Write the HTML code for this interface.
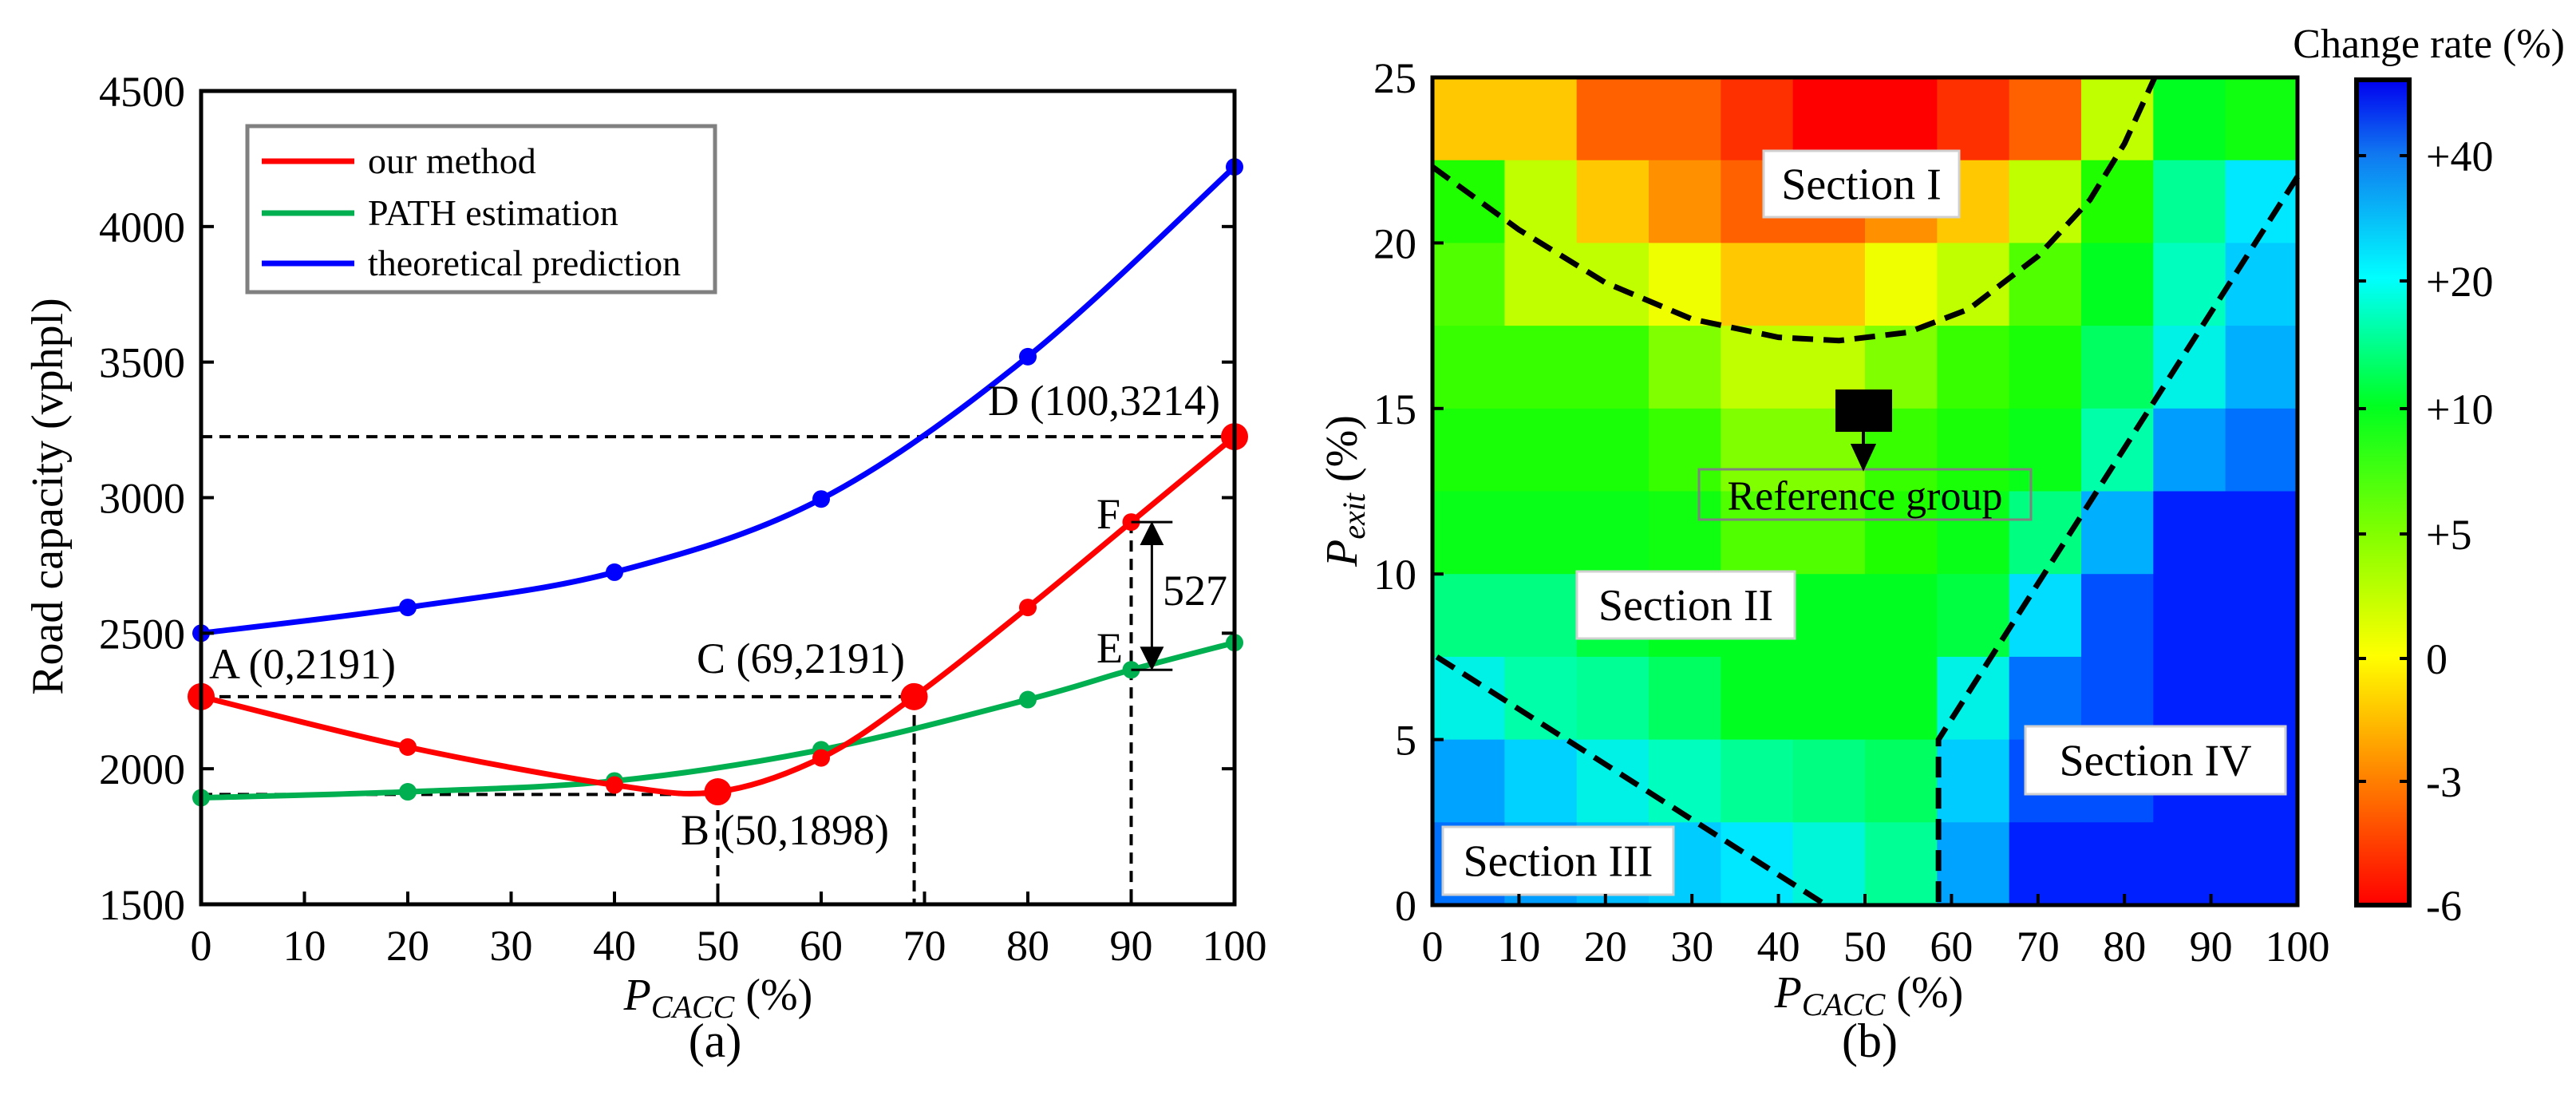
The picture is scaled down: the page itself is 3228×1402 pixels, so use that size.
<!DOCTYPE html>
<html><head><meta charset="utf-8"><style>
html,body{margin:0;padding:0;background:#fff}
svg{display:block}
text{font-family:"Liberation Serif",serif;fill:#000}
</style></head><body>
<svg id="fig" width="3228" height="1402" viewBox="0 0 3228 1402" xmlns="http://www.w3.org/2000/svg">
<defs>
<linearGradient id="cbar" x1="0" y1="1" x2="0" y2="0">
<stop offset="0" stop-color="#ff0000"/><stop offset="0.152" stop-color="#ff8000"/><stop offset="0.302" stop-color="#ffff00"/><stop offset="0.452" stop-color="#80ff00"/><stop offset="0.605" stop-color="#00ff20"/><stop offset="0.76" stop-color="#00ffff"/><stop offset="0.91" stop-color="#1078f0"/><stop offset="1" stop-color="#0000f0"/>
</linearGradient>
<marker id="ah" markerWidth="10" markerHeight="10" refX="5" refY="5" orient="auto-start-reverse"><path d="M0,0 L10,5 L0,10 z" fill="#000"/></marker>
</defs>
<g id="left"></g>
<g id="right"></g>
</svg>
<script>
// ---- chart (a) data ----
const xTicksA = [0,10,20,30,40,50,60,70,80,90,100];
const yTicksA = [1500,2000,2500,3000,3500,4000,4500];
const blueX = [0,20,40,60,80,100];
const blueY = [2500,2595,2725,2995,3520,4220];
const greenX = [0,20,40,60,80,90,100];
const greenY = [1893,1915,1955,2070,2255,2365,2465];
const redX = [0,20,40,50,60,69,80,90,100];
const redY = [2266,2080,1940,1915,2040,2266,2595,2910,3225];
const redBig = [0,50,69,100];
// ---- chart (b) data ----
const heatXTicks = [0,10,20,30,40,50,60,70,80,90,100];
const heatYTicks = [0,5,10,15,20,25];
const cbTicks = [-6,-3,0,5,10,20,40];
const cbLabels = ["-6","-3","0","+5","+10","+20","+40"];
const heatRows = [ // top row (22.5-25) to bottom (0-2.5), 12 columns
[-1.5,-1.5,-4,-4,-5,-6,-6,-5,-4,3,9,8],
[7,3,-1.5,-3,-4,-4,-3,-1.5,3,7,13,20],
[6,3,3,0.5,-1.5,-1.5,0.5,3,6,9,15,25],
[6.5,6.5,6.5,5,3,3,5,6.5,7.5,11,18,30],
[7.5,7.5,7.5,6.5,5,5,6.5,7.5,8.5,14,33,40],
[8.5,8.5,8.5,8,6,6,7,8.5,12,30,45,45],
[12,12,10,9,9,9,9,10,22,42,45,45],
[18,14,13,11,9,9,9,18,40,42,45,45],
[32,24,18,15,13,12,11,25,42,42,45,45],
[40,33,28,25,20,17,13,32,45,45,45,45]
];

const NS="http://www.w3.org/2000/svg";
function mk(parent,tag,attrs,txt){const e=document.createElementNS(NS,tag);for(const k in attrs)e.setAttribute(k,attrs[k]);if(txt!==undefined)e.textContent=txt;parent.appendChild(e);return e;}

// ===== chart A =====
const L=document.getElementById('left');
const ax0=252,ax1=1547,ay0=1133,ay1=114;
const xA=v=>ax0+(v-0)/100*(ax1-ax0);
const yA=v=>ay0-(v-1500)/3000*(ay0-ay1);
function smooth(xs,ys){let p=xs.map((x,i)=>[xA(x),yA(ys[i])]);let d=`M${p[0][0]},${p[0][1]}`;for(let i=0;i<p.length-1;i++){const p0=p[i-1]||p[i],p1=p[i],p2=p[i+1],p3=p[i+2]||p[i+1];const c1=[p1[0]+(p2[0]-p0[0])/6,p1[1]+(p2[1]-p0[1])/6];const c2=[p2[0]-(p3[0]-p1[0])/6,p2[1]-(p3[1]-p1[1])/6];d+=` C${c1[0]},${c1[1]} ${c2[0]},${c2[1]} ${p2[0]},${p2[1]}`;}return d;}
const dash={stroke:'#000','stroke-width':4,'stroke-dasharray':'14 9',fill:'none'};
let g=mk(L,'line',Object.assign({x1:xA(0),y1:yA(3225),x2:xA(100),y2:yA(3225)},dash));


g=mk(L,'line',Object.assign({x1:xA(0),y1:yA(2266),x2:xA(69),y2:yA(2266)},dash));


g=mk(L,'line',Object.assign({x1:xA(0),y1:yA(1905),x2:xA(50),y2:yA(1905)},dash));


g=mk(L,'line',Object.assign({x1:xA(50),y1:yA(1915),x2:xA(50),y2:yA(1500)},dash));


g=mk(L,'line',Object.assign({x1:xA(69),y1:yA(2266),x2:xA(69),y2:yA(1500)},dash));


g=mk(L,'line',Object.assign({x1:xA(90),y1:yA(2910),x2:xA(90),y2:yA(1500)},dash));


const series=[['blue',blueX,blueY,'#0000ff'],['green',greenX,greenY,'#00b050'],['red',redX,redY,'#ff0000']];
series.forEach(s=>{
 const p=mk(L,'path',{d:smooth(s[1],s[2]),stroke:s[3],'stroke-width':7,fill:'none'});
 
 
 s[1].forEach((x,i)=>{const big=s[0]==='red'&&redBig.includes(x);
  const c=mk(L,'circle',{cx:xA(x),cy:yA(s[2][i]),r:big?17:11,fill:s[3]});
  
  });
});
const ax=xA(92);
g=mk(L,'line',{x1:ax,y1:yA(2910)+14,x2:ax,y2:yA(2365)-14,stroke:'#000','stroke-width':3,'marker-start':'url(#ah)','marker-end':'url(#ah)'});


[2910,2365].forEach(v=>{const t=mk(L,'line',{x1:xA(90),y1:yA(v),x2:xA(94),y2:yA(v),stroke:'#000','stroke-width':3});

});
const ann=[['A (0,2191)',262,850,'label-a'],['C (69,2191)',873,843,'label-c'],['B (50,1898)',853,1058,'label-b'],['D (100,3214)',1238,520,'label-d'],['F',1374,662,'label-f'],['E',1374,830,'label-e'],['527',1457,758,'label-527']];
ann.forEach(a=>{const t=mk(L,'text',{x:a[1],y:a[2],'font-size':54},a[0]);

});
g=mk(L,'rect',{x:ax0,y:ay1,width:ax1-ax0,height:ay0-ay1,fill:'none',stroke:'#000','stroke-width':5});


xTicksA.forEach(v=>{const t=mk(L,'line',{x1:xA(v),y1:ay0,x2:xA(v),y2:ay0-16,stroke:'#000','stroke-width':4});


const l=mk(L,'text',{x:xA(v),y:ay0+70,'font-size':54,'text-anchor':'middle'},String(v));

});
yTicksA.forEach(v=>{[ax0,ax1].forEach((xx,k)=>{const t=mk(L,'line',{x1:xx,y1:yA(v),x2:xx+(k?-16:16),y2:yA(v),stroke:'#000','stroke-width':4});

});
const l=mk(L,'text',{x:ax0-20,y:yA(v)+19,'font-size':54,'text-anchor':'end'},String(v));

});
let t=mk(L,'text',{x:0,y:0,'font-size':56,'text-anchor':'middle',transform:'translate(78,622) rotate(-90)'},'Road capacity (vphpl)');


t=mk(L,'text',{x:900,y:1265,'font-size':56,'text-anchor':'middle'});
t.innerHTML='<tspan font-style="italic">P</tspan><tspan font-style="italic" font-size="40" dy="10">CACC</tspan><tspan dy="-10"> (%)</tspan>';


t=mk(L,'text',{x:896,y:1324,'font-size':60,'text-anchor':'middle'},'(a)');


const lg=mk(L,'g',{});


mk(lg,'rect',{x:310,y:158,width:586,height:208,fill:'#fff',stroke:'#808080','stroke-width':5});
[['our method','#ff0000',202],['PATH estimation','#00b050',267],['theoretical prediction','#0000ff',330]].forEach(e=>{
 const eg=mk(lg,'g',{});
 
 
 mk(eg,'line',{x1:328,y1:e[2],x2:444,y2:e[2],stroke:e[1],'stroke-width':7});
 mk(eg,'text',{x:461,y:e[2]+15,'font-size':46},e[0]);
});

// ===== chart B =====
const R=document.getElementById('right');
const hx0=1795,hx1=2879,hy0=1134,hy1=97;
const xB=v=>hx0+v/100*(hx1-hx0);
const yB=v=>hy0-v/25*(hy0-hy1);
const cStops=[[-6,[255,0,0]],[-5,[255,48,0]],[-4,[255,96,0]],[-3,[255,144,0]],[-1.5,[255,200,0]],[0.5,[240,255,0]],[3,[192,255,0]],[5,[128,255,0]],[7,[32,255,0]],[9,[0,255,32]],[12,[0,255,128]],[15,[0,255,190]],[20,[0,232,255]],[30,[0,176,255]],[40,[0,112,255]],[45,[0,32,255]],[50,[0,0,240]]];
function colorOf(v){for(let i=0;i<cStops.length-1;i++){const a=cStops[i],b=cStops[i+1];if(v<=b[0]){const f=Math.max(0,(v-a[0])/(b[0]-a[0]));return 'rgb('+a[1].map((c,k)=>Math.round(c+(b[1][k]-c)*f)).join(',')+')';}}return 'rgb(0,0,240)';}
const nr=heatRows.length,nc=heatRows[0].length;
heatRows.forEach((row,ri)=>row.forEach((v,ci)=>{
 const x0=xB(ci*100/nc),x1=xB((ci+1)*100/nc),yt=yB(25-ri*25/nr),yb=yB(25-(ri+1)*25/nr);
 const r=mk(R,'rect',{x:x0,y:yt,width:x1-x0+0.6,height:yb-yt+0.6,fill:colorOf(v)});
 
 
}));
const bd={stroke:'#000','stroke-width':7,'stroke-dasharray':'26 13',fill:'none'};
const curveI=[[0,22.3],[10,20.4],[20,18.8],[30,17.7],[40,17.15],[47,17.05],[55,17.3],[62,18.0],[70,19.6],[76,21.3],[80,23],[83.5,25]];
let d='M'+curveI.map(p=>xB(p[0])+','+yB(p[1])).join(' L');
g=mk(R,'path',Object.assign({d:d},bd));


g=mk(R,'path',Object.assign({d:`M${xB(100)},${yB(22)} L${xB(58.5)},${yB(5)} L${xB(58.5)},${yB(0)}`},bd));


g=mk(R,'path',Object.assign({d:`M${xB(0.5)},${yB(7.5)} L${xB(45.5)},${yB(0)}`},bd));


[['Section I',2210,189,245,83,'section-i-label',true],['Section II',1976,716,273,84,'section-ii-label',true],['Section III',1808,1036,289,85,'section-iii-label',true],['Section IV',2538,910,326,85,'section-iv-label',true],['Reference group',2129,588,416,63,'reference-group-label',false]].forEach(s=>{
 const sg=mk(R,'g',{});
 
 
 mk(sg,'rect',{x:s[1],y:s[2],width:s[3],height:s[4],fill:s[6]?'#fff':'none',stroke:s[6]?'#d0d0d0':'#808080','stroke-width':3});
 mk(sg,'text',{x:s[1]+s[3]/2,y:s[2]+s[4]/2+19,'font-size':s[6]?56:52,'text-anchor':'middle'},s[0]);
});
g=mk(R,'rect',{x:2300,y:488,width:71,height:53,fill:'#000'});


g=mk(R,'path',{d:'M2335,541 L2335,560 M2322,558 L2348,558 L2335,586 Z',stroke:'#000','stroke-width':4,fill:'#000'});


g=mk(R,'rect',{x:hx0,y:hy1,width:hx1-hx0,height:hy0-hy1,fill:'none',stroke:'#000','stroke-width':5});


heatXTicks.forEach(v=>{const tk=mk(R,'line',{x1:xB(v),y1:hy0,x2:xB(v),y2:hy0-14,stroke:'#000','stroke-width':4});


const l=mk(R,'text',{x:xB(v),y:hy0+70,'font-size':54,'text-anchor':'middle'},String(v));

});
heatYTicks.forEach(v=>{const tk=mk(R,'line',{x1:hx0,y1:yB(v),x2:hx0+14,y2:yB(v),stroke:'#000','stroke-width':4});


const l=mk(R,'text',{x:hx0-20,y:yB(v)+19,'font-size':54,'text-anchor':'end'},String(v));

});
t=mk(R,'text',{x:0,y:0,'font-size':56,'text-anchor':'middle',transform:'translate(1700,615) rotate(-90)'});
t.innerHTML='<tspan font-style="italic">P</tspan><tspan font-style="italic" font-size="40" dy="10">exit</tspan><tspan dy="-10"> (%)</tspan>';


t=mk(R,'text',{x:2342,y:1262,'font-size':56,'text-anchor':'middle'});
t.innerHTML='<tspan font-style="italic">P</tspan><tspan font-style="italic" font-size="40" dy="10">CACC</tspan><tspan dy="-10"> (%)</tspan>';


t=mk(R,'text',{x:2343,y:1324,'font-size':60,'text-anchor':'middle'},'(b)');


const cbx0=2953,cbx1=3019,cby0=1134,cby1=100;
const cbPos={'-6':1134,'-3':979,'0':825,'5':669,'10':512,'20':352,'40':195};
g=mk(R,'rect',{x:cbx0,y:cby1,width:cbx1-cbx0,height:cby0-cby1,fill:'url(#cbar)',stroke:'#000','stroke-width':6});


cbTicks.forEach((v,i)=>{const yy=cbPos[String(v)];
 [cbx0,cbx1].forEach((xx,k)=>{const tk=mk(R,'line',{x1:xx,y1:yy,x2:xx+(k?-12:12),y2:yy,stroke:'#000','stroke-width':4});
 
 });
 const l=mk(R,'text',{x:3040,y:yy+19,'font-size':54},cbLabels[i]);
 
 });
t=mk(R,'text',{x:3214,y:72,'font-size':52,'text-anchor':'end'},'Change rate (%)');


</script>
</body></html>
